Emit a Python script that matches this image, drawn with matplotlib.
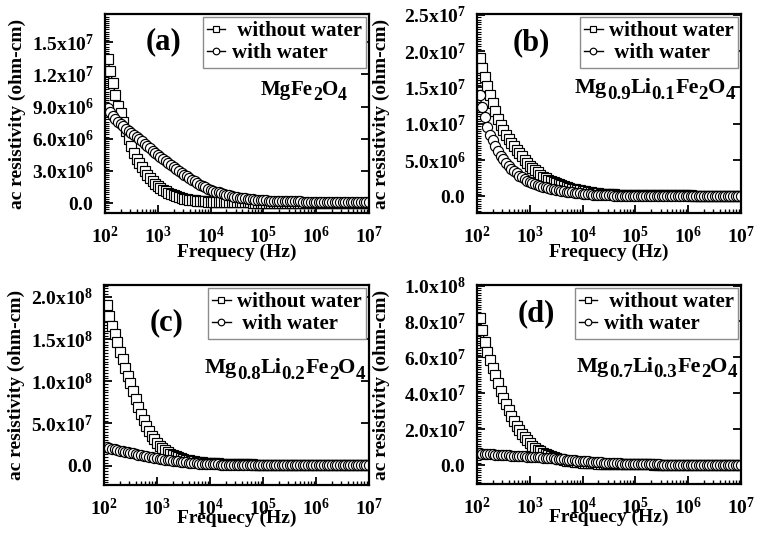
import numpy as np
import matplotlib
matplotlib.use("Agg")
import matplotlib.pyplot as plt
from matplotlib.ticker import MultipleLocator, AutoMinorLocator, LogLocator, FuncFormatter, NullFormatter

plt.rcParams['font.family'] = ['Liberation Serif', 'DejaVu Serif']
plt.rcParams['font.weight'] = 'bold'
plt.rcParams['mathtext.fontset'] = 'custom'
plt.rcParams['mathtext.rm'] = 'Liberation Serif:bold'
plt.rcParams['mathtext.bf'] = 'Liberation Serif:bold'
plt.rcParams['mathtext.it'] = 'Liberation Serif:bold:italic'

# ---------------- data (frequency in Hz, resistivity in 1e6 ohm-cm) ----------------
MEGA = 1e6
freq = [112, 126, 141, 158, 178, 200, 224, 251, 282, 316, 355, 398, 447, 501, 562, 631, 708, 794, 891, 1000,
        1122, 1259, 1413, 1585, 1778, 1995, 2239, 2512, 2818, 3162, 3548, 3981, 4467, 5012, 5623, 6310, 7079, 7943, 8913, 10000,
        11220, 12589, 14125, 15849, 17783, 19953, 22387, 25119, 28184, 31623, 35481, 39811, 44668, 50119, 56234, 63096, 70795, 79433, 89125, 100000,
        112202, 125893, 141254, 158489, 177828, 199526, 223872, 251189, 281838, 316228, 354813, 398107, 446684, 501187, 562341, 630957, 707946, 794328, 891251, 1000000,
        1122018, 1258925, 1412538, 1584893, 1778279, 1995262, 2238721, 2511886, 2818383, 3162278, 3548134, 3981072, 4466836, 5011872, 5623413, 6309573, 7079458, 7943282, 8912509, 10000000]

a_without = [13.4, 12.3, 11.2, 10.1, 9.1, 8.4, 7.6, 6.7, 6.0, 5.3, 4.7, 4.1, 3.7, 3.35, 2.95, 2.6, 2.35, 2.08, 1.82, 1.6,
             1.4, 1.23, 1.09, 0.96, 0.83, 0.72, 0.63, 0.55, 0.48, 0.42, 0.37, 0.32, 0.28, 0.25, 0.22, 0.2, 0.18, 0.16, 0.14, 0.13,
             0.12, 0.11, 0.104, 0.097, 0.09, 0.085, 0.08, 0.075, 0.07, 0.066, 0.062, 0.058, 0.055, 0.052, 0.05, 0.047, 0.045, 0.043, 0.042, 0.041,
             0.04, 0.039, 0.038, 0.037, 0.036, 0.035, 0.034, 0.033, 0.032, 0.031, 0.03, 0.03, 0.029, 0.028, 0.028, 0.027, 0.026, 0.026, 0.025, 0.024,
             0.024, 0.024, 0.023, 0.023, 0.023, 0.022, 0.022, 0.022, 0.022, 0.021, 0.021, 0.021, 0.021, 0.02, 0.02, 0.02, 0.02, 0.02, 0.019, 0.019]
a_with = [8.9, 8.45, 8.1, 7.85, 7.6, 7.4, 7.15, 6.95, 6.72, 6.52, 6.32, 6.12, 5.93, 5.75, 5.55, 5.33, 5.12, 4.9, 4.7, 4.5,
          4.31, 4.13, 3.95, 3.75, 3.52, 3.35, 3.17, 3.0, 2.83, 2.66, 2.5, 2.32, 2.17, 2.02, 1.85, 1.72, 1.58, 1.45, 1.35, 1.25,
          1.15, 1.06, 0.99, 0.91, 0.84, 0.77, 0.71, 0.65, 0.6, 0.56, 0.51, 0.47, 0.43, 0.4, 0.36, 0.34, 0.31, 0.29, 0.27, 0.25,
          0.24, 0.23, 0.22, 0.21, 0.2, 0.19, 0.18, 0.175, 0.17, 0.165, 0.16, 0.155, 0.15, 0.145, 0.14, 0.135, 0.13, 0.125, 0.12, 0.115,
          0.112, 0.109, 0.106, 0.103, 0.1, 0.097, 0.094, 0.091, 0.088, 0.086, 0.084, 0.082, 0.08, 0.078, 0.076, 0.074, 0.072, 0.071, 0.07, 0.068]
b_without = [19.0, 17.7, 16.4, 15.2, 14.0, 12.9, 11.8, 10.7, 9.8, 9.15, 8.5, 7.9, 7.4, 6.9, 6.45, 5.95, 5.5, 5.0, 4.6, 4.2,
             3.9, 3.6, 3.3, 3.0, 2.7, 2.5, 2.32, 2.14, 1.97, 1.83, 1.68, 1.53, 1.4, 1.3, 1.18, 1.08, 0.99, 0.9, 0.83, 0.76,
             0.7, 0.62, 0.55, 0.49, 0.44, 0.41, 0.38, 0.35, 0.32, 0.3, 0.28, 0.26, 0.245, 0.235, 0.22, 0.21, 0.2, 0.19, 0.185, 0.18,
             0.177, 0.174, 0.171, 0.168, 0.165, 0.162, 0.159, 0.156, 0.153, 0.15, 0.147, 0.144, 0.141, 0.138, 0.135, 0.132, 0.129, 0.126, 0.123, 0.121,
             0.12, 0.118, 0.117, 0.115, 0.114, 0.112, 0.111, 0.11, 0.108, 0.107, 0.106, 0.104, 0.103, 0.102, 0.101, 0.1, 0.099, 0.098, 0.096, 0.095]
b_with = [13.9, 12.3, 10.9, 9.6, 8.5, 7.7, 7.0, 6.25, 5.6, 5.1, 4.65, 4.22, 3.83, 3.5, 3.15, 2.85, 2.6, 2.36, 2.16, 1.98,
          1.86, 1.72, 1.59, 1.47, 1.35, 1.23, 1.12, 1.03, 0.95, 0.88, 0.82, 0.75, 0.69, 0.65, 0.6, 0.55, 0.51, 0.46, 0.42, 0.38,
          0.34, 0.3, 0.27, 0.24, 0.21, 0.19, 0.175, 0.16, 0.145, 0.13, 0.12, 0.113, 0.105, 0.097, 0.09, 0.084, 0.078, 0.073, 0.069, 0.065,
          0.063, 0.061, 0.059, 0.057, 0.055, 0.053, 0.051, 0.049, 0.047, 0.046, 0.044, 0.043, 0.041, 0.04, 0.039, 0.038, 0.037, 0.035, 0.034, 0.033,
          0.033, 0.032, 0.032, 0.031, 0.031, 0.03, 0.03, 0.029, 0.029, 0.028, 0.028, 0.027, 0.027, 0.026, 0.026, 0.026, 0.025, 0.025, 0.024, 0.024]
c_without = [190, 177, 166, 156, 146, 135, 126, 116, 106, 98, 88, 79, 70, 61, 54, 47, 41, 35.5, 31, 27,
             23.5, 20.4, 18.1, 16.0, 14.0, 12.4, 11.0, 9.9, 8.85, 7.9, 7.1, 6.4, 5.75, 5.2, 4.7, 4.25, 3.9, 3.6, 3.3, 3.1,
             2.9, 2.72, 2.57, 2.42, 2.27, 2.15, 2.03, 1.93, 1.84, 1.75, 1.66, 1.57, 1.5, 1.44, 1.38, 1.33, 1.29, 1.24, 1.2, 1.17,
             1.14, 1.11, 1.08, 1.06, 1.03, 1.01, 0.99, 0.97, 0.95, 0.93, 0.92, 0.9, 0.89, 0.87, 0.86, 0.85, 0.84, 0.82, 0.81, 0.8,
             0.79, 0.79, 0.78, 0.77, 0.77, 0.76, 0.75, 0.75, 0.74, 0.73, 0.73, 0.72, 0.72, 0.71, 0.7, 0.7, 0.69, 0.69, 0.68, 0.68]
c_with = [22.5, 21.2, 20.2, 19.4, 18.6, 17.8, 17.0, 16.4, 15.7, 15.1, 14.5, 13.9, 13.1, 12.4, 11.7, 11.0, 10.4, 9.8, 9.2, 8.7,
          8.1, 7.6, 7.15, 6.65, 6.15, 5.75, 5.35, 4.95, 4.55, 4.2, 3.9, 3.55, 3.25, 2.95, 2.7, 2.45, 2.24, 2.05, 1.86, 1.7,
          1.57, 1.45, 1.35, 1.25, 1.16, 1.08, 1.0, 0.94, 0.88, 0.82, 0.77, 0.72, 0.67, 0.63, 0.58, 0.55, 0.51, 0.48, 0.45, 0.43,
          0.41, 0.39, 0.375, 0.36, 0.345, 0.33, 0.32, 0.305, 0.295, 0.285, 0.275, 0.265, 0.255, 0.25, 0.24, 0.235, 0.23, 0.22, 0.215, 0.21,
          0.205, 0.2, 0.195, 0.19, 0.186, 0.182, 0.178, 0.174, 0.17, 0.167, 0.164, 0.161, 0.158, 0.155, 0.152, 0.15, 0.147, 0.145, 0.142, 0.14]
d_without = [82, 75, 68.5, 63, 58.5, 54, 50, 45.5, 41.5, 37.5, 34, 30.5, 27.5, 24.7, 22, 19.6, 17.5, 15.5, 13.8, 12.2,
             10.8, 9.6, 8.6, 7.7, 6.9, 6.2, 5.5, 4.95, 4.4, 3.95, 3.55, 3.15, 2.85, 2.55, 2.3, 2.05, 1.85, 1.65, 1.52, 1.4,
             1.3, 1.18, 1.09, 1.02, 0.95, 0.89, 0.84, 0.79, 0.75, 0.71, 0.67, 0.63, 0.59, 0.56, 0.53, 0.51, 0.48, 0.46, 0.44, 0.42,
             0.41, 0.4, 0.39, 0.38, 0.37, 0.36, 0.35, 0.345, 0.335, 0.33, 0.32, 0.31, 0.305, 0.3, 0.29, 0.285, 0.28, 0.27, 0.265, 0.26,
             0.257, 0.254, 0.251, 0.248, 0.245, 0.242, 0.239, 0.236, 0.233, 0.23, 0.227, 0.224, 0.221, 0.218, 0.215, 0.212, 0.209, 0.206, 0.203, 0.2]
d_with = [6.5, 6.35, 6.22, 6.12, 6.05, 5.97, 5.89, 5.8, 5.72, 5.63, 5.54, 5.45, 5.35, 5.26, 5.17, 5.06, 4.97, 4.88, 4.79, 4.7,
          4.6, 4.52, 4.44, 4.34, 4.21, 4.1, 3.98, 3.87, 3.76, 3.64, 3.52, 3.38, 3.25, 3.12, 3.0, 2.85, 2.7, 2.55, 2.42, 2.3,
          2.17, 2.05, 1.95, 1.84, 1.72, 1.62, 1.52, 1.44, 1.36, 1.28, 1.2, 1.12, 1.04, 0.97, 0.9, 0.84, 0.78, 0.72, 0.66, 0.6,
          0.57, 0.54, 0.51, 0.48, 0.45, 0.43, 0.41, 0.39, 0.37, 0.35, 0.33, 0.31, 0.29, 0.27, 0.26, 0.24, 0.23, 0.21, 0.2, 0.18,
          0.175, 0.17, 0.165, 0.16, 0.155, 0.15, 0.145, 0.14, 0.136, 0.132, 0.128, 0.124, 0.12, 0.117, 0.114, 0.111, 0.108, 0.105, 0.102, 0.1]

panel_tags = ['(a)', '(b)', '(c)', '(d)']
legend_labels = [[' without water', 'with water'],
                 ['without water', ' with water'],
                 ['without water', ' with water'],
                 [' without water', 'with water']]
formulas = [[('Mg', 0), ('Fe', 0), ('2', 1), ('O', 0), ('4', 1)],
            [('Mg', 0), ('0.9', 1), ('Li', 0), ('0.1', 1), ('Fe', 0), ('2', 1), ('O', 0), ('4', 1)],
            [('Mg', 0), ('0.8', 1), ('Li', 0), ('0.2', 1), ('Fe', 0), ('2', 1), ('O', 0), ('4', 1)],
            [('Mg', 0), ('0.7', 1), ('Li', 0), ('0.3', 1), ('Fe', 0), ('2', 1), ('O', 0), ('4', 1)]]
y_limits = [(-0.93e6, 1.764e7), (-2.29e6, 2.51e7), (-2.3e7, 2.14e8), (-1.05e7, 1.003e8)]
y_steps = [3e6, 5e6, 5e7, 2e7]
x_limits = (1e2, 1e7)

series = [(a_without, a_with), (b_without, b_with), (c_without, c_with), (d_without, d_with)]

# ---------------- layout (pixels) ----------------
W, H = 757, 535
boxes = [(105, 369, 14, 213), (477, 741, 14, 213), (104, 369, 285, 485), (477, 741, 285, 484)]
tag_pos = [(0.22, 0.86), (0.205, 0.855), (0.237, 0.81), (0.226, 0.858)]
form_pos = [(0.917, 0.62, 15), (0.977, 0.63, 16), (0.985, 0.585, 16), (0.985, 0.59, 16)]
ylabel_x = [-0.30, -0.33, -0.297, -0.33]
xlabel_y = [-0.155, -0.155, -0.125, -0.125]

fig = plt.figure(figsize=(W / 100, H / 100), dpi=100)


def yfmt(v, pos):
    if abs(v) < 1.0:
        return r'$\mathbf{0.0}$'
    e = int(np.floor(np.log10(abs(v)) + 1e-9))
    m = v / 10 ** e
    return r'$\mathbf{%.1fx10^{%d}}$' % (m, e)


def xfmt(v, pos):
    return r'$\mathbf{10^{%d}}$' % int(round(np.log10(v)))


axes = []
for i in range(4):
    l, r, t, b = boxes[i]
    ax = fig.add_axes([l / W, 1 - b / H, (r - l) / W, (b - t) / H])
    axes.append(ax)
    wo, wi = series[i]
    h1, = ax.plot(freq, np.array(wo) * MEGA, ls='-', lw=1.0, color='black', marker='s', ms=7.0,
                  mfc='white', mec='black', mew=0.85)
    h2, = ax.plot(freq, np.array(wi) * MEGA, ls='-', lw=1.0, color='black', marker='o', ms=7.3,
                  mfc='white', mec='black', mew=0.85)
    ax.set_xscale('log')
    ax.set_xlim(*x_limits)
    ax.set_ylim(*y_limits[i])
    ax.yaxis.set_major_locator(MultipleLocator(y_steps[i]))
    ax.yaxis.set_minor_locator(AutoMinorLocator(15))
    ax.yaxis.set_major_formatter(FuncFormatter(yfmt))
    ax.xaxis.set_major_locator(LogLocator(base=10, numticks=20))
    ax.xaxis.set_minor_locator(LogLocator(base=10, subs=range(2, 10), numticks=20))
    ax.xaxis.set_major_formatter(FuncFormatter(xfmt))
    ax.xaxis.set_minor_formatter(NullFormatter())
    for s in ax.spines.values():
        s.set_linewidth(1.6)
    ax.tick_params(axis='both', which='both', direction='in')
    ax.tick_params(axis='x', which='major', length=6, width=1.3, pad=9, labelsize=14, top=False)
    ax.tick_params(axis='x', which='minor', length=3, width=1.0, top=False)
    ax.tick_params(axis='y', which='major', length=6, width=1.3, pad=8, labelsize=14, right=True)
    ax.tick_params(axis='y', which='minor', length=3, width=0.8, right=False)

    ax.set_xlabel('Frequecy (Hz)', fontsize=14, fontweight='bold')
    ax.xaxis.set_label_coords(0.5, xlabel_y[i])
    ax.set_ylabel('ac resistivity (ohm-cm)', fontsize=14, fontweight='bold')
    ax.yaxis.set_label_coords(ylabel_x[i], 0.5)

    leg = ax.legend([h1, h2], legend_labels[i], loc='upper right', bbox_to_anchor=(1.0, 1.0),
                    borderaxespad=0.15, fancybox=False, framealpha=1, edgecolor='#8c8c8c',
                    prop={'weight': 'bold', 'size': 15}, handlelength=0.9, handletextpad=0.3,
                    borderpad=0.2, labelspacing=0.1, markerscale=0.65, numpoints=1)
    leg.get_frame().set_linewidth(1.0)

    tx, ty = tag_pos[i]
    ax.text(tx, ty, panel_tags[i], transform=ax.transAxes, ha='center', va='center',
            fontsize=22, fontweight='bold')

# chemical formulas built from pieces (subscripts lowered)
renderer = fig.canvas.get_renderer()
for i, ax in enumerate(axes):
    xr, yc, fs = form_pos[i]
    pieces = []
    for s, sub in formulas[i]:
        t = ax.text(0, 0, s, fontsize=fs * (0.85 if sub else 1.0), fontweight='bold',
                    ha='left', va='baseline', transform=ax.transAxes)
        pieces.append((t, sub))
    widths = [t.get_window_extent(renderer).width for t, _ in pieces]
    X, Y = ax.transAxes.transform((xr, yc))
    x0 = X - sum(widths)
    base = Y - fs * 0.33
    inv = ax.transAxes.inverted()
    for (t, sub), w in zip(pieces, widths):
        yy = base - (fs * 0.35 if sub else 0.0)
        t.set_position(inv.transform((x0, yy)))
        x0 += w

fig.savefig('out.png', dpi=100)
